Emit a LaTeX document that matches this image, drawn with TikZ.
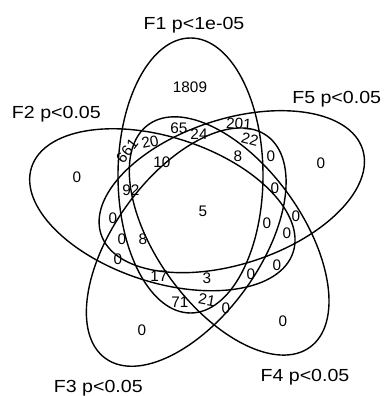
\documentclass[tikz,border=0pt]{standalone}
\usepackage{fontspec}
\setmainfont{Liberation Sans}
\begin{document}
\begin{tikzpicture}[x=1pt,y=1pt,
  venn/.style={line width=1.4pt, black},
  num/.style={inner sep=0pt, font=\fontsize{15.3}{18}\selectfont},
  setlabel/.style={inner sep=0pt, anchor=base, xscale=1.12, font=\fontsize{17.5}{20}\selectfont}]
\useasboundingbox (0,0) rectangle (383,396);
\coordinate (C) at (200,184);
% ellipses
\draw[venn] (190.5,220.5) ellipse [x radius=72.5, y radius=137.5];
\draw[venn, rotate around={-72:(C)}] (190.5,220.5) ellipse [x radius=72.5, y radius=137.5];
\draw[venn, rotate around={-144:(C)}] (190.5,220.5) ellipse [x radius=72.5, y radius=137.5];
\draw[venn, rotate around={144:(C)}] (190.5,220.5) ellipse [x radius=72.5, y radius=137.5];
\draw[venn, rotate around={72:(C)}] (190.5,220.5) ellipse [x radius=72.5, y radius=137.5];
% set labels
\node[setlabel] (l1) at (194,366.7) {F1 p<1e-05};
\node[setlabel] (l2) at (56.4,277.7) {F2 p<0.05};
\node[setlabel] (l3) at (98.3,4) {F3 p<0.05};
\node[setlabel] (l4) at (305,14.3) {F4 p<0.05};
\node[setlabel] (l5) at (336.7,292) {F5 p<0.05};
% counts
\node[num] (n1) at (190,309) {1809};
\node[num] (n2) at (77,219) {0};
\node[num] (n3) at (142,66) {0};
\node[num] (n4) at (283,75) {0};
\node[num] (n5) at (321,233) {0};
\node[num] (n6) at (203,185) {5};
\node[num] (n7) at (179,268) {65};
\node[num] (n8) at (199,262) {24};
\node[num, rotate=52] (n9) at (127,245) {661};
\node[num, rotate=12] (n10) at (150,254) {20};
\node[num] (n11) at (162,234) {10};
\node[num] (n12) at (131,206) {92};
\node[num] (n13) at (113,178) {0};
\node[num] (n14) at (122,157) {0};
\node[num] (n15) at (143,157) {8};
\node[num] (n16) at (118,137) {0};
\node[num] (n17) at (159,120) {17};
\node[num] (n18) at (207,118) {3};
\node[num] (n19) at (180,94) {71};
\node[num, rotate=-10] (n20) at (207,96) {21};
\node[num] (n21) at (226,88) {0};
\node[num] (n22) at (251,122) {0};
\node[num] (n23) at (277,131) {0};
\node[num] (n24) at (267,173) {0};
\node[num] (n25) at (287,163) {0};
\node[num] (n26) at (296,180) {0};
\node[num] (n27) at (275,208) {0};
\node[num] (n28) at (271,240) {0};
\node[num] (n29) at (238,240) {8};
\node[num, rotate=-14] (n30) at (250,257) {22};
\node[num, rotate=-4] (n31) at (239,272) {201};
\end{tikzpicture}
\end{document}
